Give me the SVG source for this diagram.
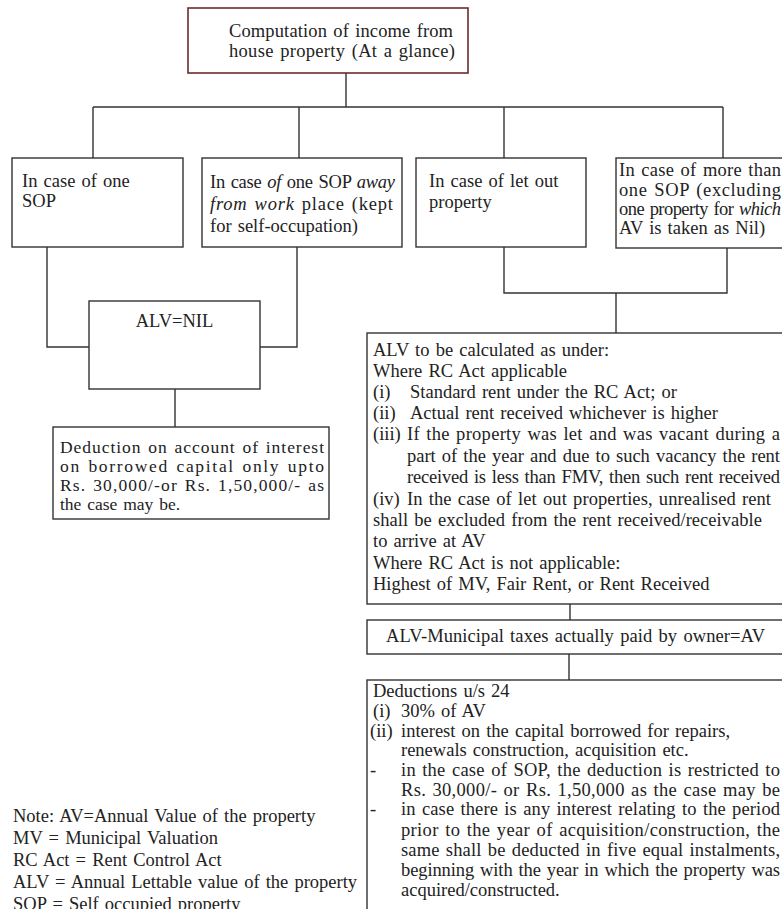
<svg xmlns="http://www.w3.org/2000/svg" width="782" height="909" viewBox="0 0 782 909">
<style>
  .box { fill: #ffffff; stroke: #333333; stroke-width: 1.4; }
  .topbox { fill: #ffffff; stroke: #6b2b2b; stroke-width: 1.6; }
  .conn { fill: none; stroke: #333333; stroke-width: 1.4; }
  text { font-family: "Liberation Serif", "Times New Roman", serif; font-size: 18.5px; fill: #222222; word-spacing: 1.5px; }
  .it { font-style: italic; }
  .small { font-size: 17.5px; }
</style>
<rect x="0" y="0" width="782" height="909" fill="#ffffff"/>

<g id="connectors">
  <path class="conn" d="M346,73 V107 M93,107 H723 M93,107 V158 M299,107 V158 M504,107 V158 M723,107 V158"/>
  <path class="conn" d="M47,247 V347 H89 M297,247 V347 H260 M175,389 V427"/>
  <path class="conn" d="M504,247 V293 H727 V248 M616,293 V333 M570,604 V620 M569,654 V680"/>
</g>

<g id="top">
  <rect class="topbox" x="188" y="8" width="280" height="65"/>
  <text x="229" y="37" textLength="224" lengthAdjust="spacing">Computation of income from</text>
  <text x="229" y="57" textLength="226" lengthAdjust="spacing">house property (At a glance)</text>
</g>

<g id="one-sop">
  <rect class="box" x="12" y="158" width="171" height="89"/>
  <text x="22" y="187">In case of one</text>
  <text x="22" y="207">SOP</text>
</g>

<g id="sop-away">
  <rect class="box" x="202" y="158" width="200" height="89"/>
  <text x="210" y="188" textLength="185" lengthAdjust="spacing">In case <tspan class="it">of</tspan> one SOP <tspan class="it">away</tspan></text>
  <text x="210" y="210" textLength="183" lengthAdjust="spacing"><tspan class="it">from work</tspan> place (kept</text>
  <text x="210" y="232">for self-occupation)</text>
</g>

<g id="let-out">
  <rect class="box" x="416" y="158" width="170" height="89"/>
  <text x="429" y="187">In case of let out</text>
  <text x="429" y="208">property</text>
</g>

<g id="more-sop">
  <rect class="box" x="616" y="158" width="190" height="90"/>
  <text x="619" y="176" textLength="162" lengthAdjust="spacing">In case of more than</text>
  <text x="619" y="196" textLength="162" lengthAdjust="spacing">one SOP (excluding</text>
  <text x="619" y="215" textLength="162" lengthAdjust="spacing">one property for <tspan class="it">which</tspan></text>
  <text x="619" y="234">AV is taken as Nil)</text>
</g>

<g id="alv-nil">
  <rect class="box" x="89" y="301" width="171" height="88"/>
  <text x="174.5" y="327" text-anchor="middle">ALV=NIL</text>
</g>

<g id="deduction-interest">
  <rect class="box" x="53" y="427" width="276" height="92"/>
  <text class="small" x="60" y="453" textLength="264" lengthAdjust="spacing">Deduction on account of interest</text>
  <text class="small" x="60" y="472" textLength="264" lengthAdjust="spacing">on borrowed capital only upto</text>
  <text class="small" x="60" y="491" textLength="264" lengthAdjust="spacing">Rs. 30,000/-or Rs. 1,50,000/- as</text>
  <text class="small" x="60" y="510">the case may be.</text>
</g>

<g id="alv-calc">
  <rect class="box" x="367" y="333" width="440" height="271"/>
  <text x="373" y="356">ALV to be calculated as under:</text>
  <text x="373" y="377">Where RC Act applicable</text>
  <text x="373" y="398">(i)</text>
  <text x="410" y="398">Standard rent under the RC Act; or</text>
  <text x="373" y="419">(ii)</text>
  <text x="410" y="419">Actual rent received whichever is higher</text>
  <text x="373" y="440">(iii)</text>
  <text x="407" y="440" textLength="373" lengthAdjust="spacing">If the property was let and was vacant during a</text>
  <text x="407" y="462" textLength="373" lengthAdjust="spacing">part of the year and due to such vacancy the rent</text>
  <text x="407" y="483" textLength="373" lengthAdjust="spacing">received is less than FMV, then such rent received</text>
  <text x="373" y="505">(iv)</text>
  <text x="407" y="505" textLength="364" lengthAdjust="spacing">In the case of let out properties, unrealised rent</text>
  <text x="373" y="526" textLength="389" lengthAdjust="spacing">shall be excluded from the rent received/receivable</text>
  <text x="373" y="547">to arrive at AV</text>
  <text x="373" y="569">Where RC Act is not applicable:</text>
  <text x="373" y="590">Highest of MV, Fair Rent, or Rent Received</text>
</g>

<g id="av">
  <rect class="box" x="367" y="620" width="440" height="34"/>
  <text x="386" y="642" textLength="379" lengthAdjust="spacing">ALV-Municipal taxes actually paid by owner=AV</text>
</g>

<g id="deductions-24">
  <rect class="box" x="367" y="680" width="440" height="240"/>
  <text x="373" y="697">Deductions u/s 24</text>
  <text x="373" y="717">(i)</text>
  <text x="401" y="717">30% of AV</text>
  <text x="370" y="737">(ii)</text>
  <text x="401" y="737">interest on the capital borrowed for repairs,</text>
  <text x="401" y="756">renewals construction, acquisition etc.</text>
  <text x="370" y="776">-</text>
  <text x="401" y="776" textLength="379" lengthAdjust="spacing">in the case of SOP, the deduction is restricted to</text>
  <text x="401" y="796" textLength="379" lengthAdjust="spacing">Rs. 30,000/- or Rs. 1,50,000 as the case may be</text>
  <text x="370" y="815">-</text>
  <text x="401" y="815" textLength="379" lengthAdjust="spacing">in case there is any interest relating to the period</text>
  <text x="401" y="836" textLength="379" lengthAdjust="spacing">prior to the year of acquisition/construction, the</text>
  <text x="401" y="856" textLength="379" lengthAdjust="spacing">same shall be deducted in five equal instalments,</text>
  <text x="401" y="876" textLength="379" lengthAdjust="spacing">beginning with the year in which the property was</text>
  <text x="401" y="896">acquired/constructed.</text>
</g>

<g id="note">
  <text x="13" y="822">Note: AV=Annual Value of the property</text>
  <text x="13" y="844">MV = Municipal Valuation</text>
  <text x="13" y="866">RC Act = Rent Control Act</text>
  <text x="13" y="888">ALV = Annual Lettable value of the property</text>
  <text x="13" y="910">SOP = Self occupied property</text>
</g>
</svg>
